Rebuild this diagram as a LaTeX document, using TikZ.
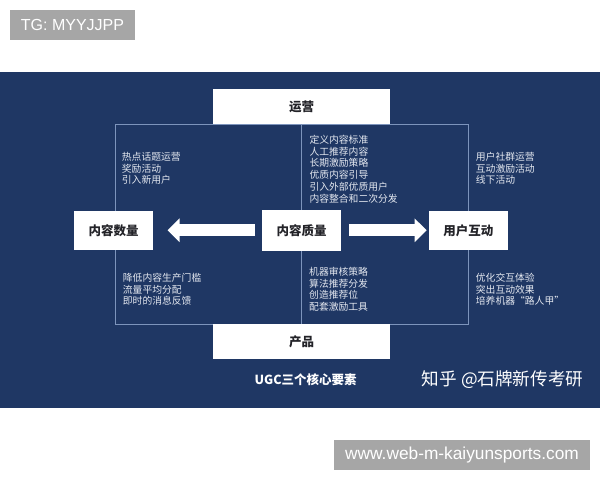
\documentclass[tikz,border=0pt]{standalone}
\usepackage{fontspec}
\setmainfont{Liberation Sans}
\newfontfamily\cjk{Noto Sans CJK SC}
\usepackage{tikz}
\usetikzlibrary{positioning, arrows.meta, backgrounds}

\definecolor{boardblue}{RGB}{31,55,100}
\definecolor{frameline}{RGB}{125,148,188}
\definecolor{listtext}{RGB}{228,232,240}
\definecolor{tagback}{RGB}{166,166,166}
\definecolor{boxtext}{RGB}{35,35,40}

\begin{document}
\begin{tikzpicture}[
    x=1pt, y=-1pt,
    wide/.style={fill=white, minimum width=177pt, minimum height=35pt, inner sep=0pt, text=boxtext, font=\cjk\bfseries\fontsize{12.5}{14}\selectfont},
    small/.style={fill=white, minimum width=78.5pt, minimum height=38.5pt, inner sep=0pt, text=boxtext, font=\cjk\bfseries\fontsize{12.5}{14}\selectfont},
    list/.style={anchor=north west, inner sep=0pt, align=left, text=listtext, font=\cjk\fontsize{9.8}{11.7}\selectfont},
    tag/.style={fill=tagback, text=white, inner sep=0pt, minimum height=30pt},
    bigarrow/.style={draw=white, line width=12pt, -{Triangle[width=23pt,length=12pt]}}
]
    \useasboundingbox (0,0) rectangle (600,480);

    % the three elements and the two frames
    \node (qual) [small, minimum height=41pt] at (301.5,230.3) {内容质量};
    \node (qty) [small, left=109pt of qual] {内容数量};
    \node (user) [small, right=88pt of qual] {用户互动};
    \node (ops) [wide, above=85pt of qual] {运营};
    \node (prod) [wide, below=73.2pt of qual] {产品};

    \draw [bigarrow, shorten <=7pt, shorten >=14.5pt] (qual.west) -- (qual.west -| qty.east);
    \draw [bigarrow, shorten <=8pt, shorten >=2.3pt] (qual.east) -- (qual.east -| user.west);

    % measures in each quarter
    \node (opsqty) [list] at (121.7,152) {热点话题运营\\奖励活动\\引入新用户};
    \node (opsqual) [list] at (309.3,135) {定义内容标准\\人工推荐内容\\长期激励策略\\优质内容引导\\引入外部优质用户\\内容整合和二次分发};
    \node (opsuser) [list] at (475.7,152) {用户社群运营\\互动激励活动\\线下活动};
    \node (prodqty) [list] at (122.7,272.8) {降低内容生产门槛\\流量平均分配\\即时的消息反馈};
    \node (prodqual) [list] at (309,266.8) {机器审核策略\\算法推荐分发\\创造推荐位\\配套激励工具};
    \node (produser) [list] at (475.7,272.8) {优化交互体验\\突出互动效果\\培养机器“路人甲”};

    \node (title) [text=white, font=\cjk\bfseries\fontsize{12.5}{14}\selectfont] at (305.7,380) {UGC三个核心要素};
    \node (mark) [anchor=west, inner sep=0pt, text=white, font=\cjk\fontsize{17.6}{19}\selectfont] at (421.7,380) {知乎 @石牌新传考研};

    \node (tg) [tag, minimum width=125pt, font=\fontsize{16}{18}\selectfont] at (72.5,25) {TG: MYYJJPP};
    \node (web) [tag, minimum width=256pt, font=\fontsize{17.3}{19}\selectfont] at (462,455) {www.web-m-kaiyunsports.com};

    \begin{scope}[on background layer]
        \fill [white] (0,0) rectangle (600,480);
        \fill [boardblue] (0,72) rectangle (600,408);
        \draw [frameline, line width=0.8pt] ([xshift=1.5pt]qty.center |- ops.south) rectangle (user.center |- prod.north);
        \draw [frameline, line width=0.8pt] (ops.south) -- (prod.north);
    \end{scope}
\end{tikzpicture}
\end{document}
